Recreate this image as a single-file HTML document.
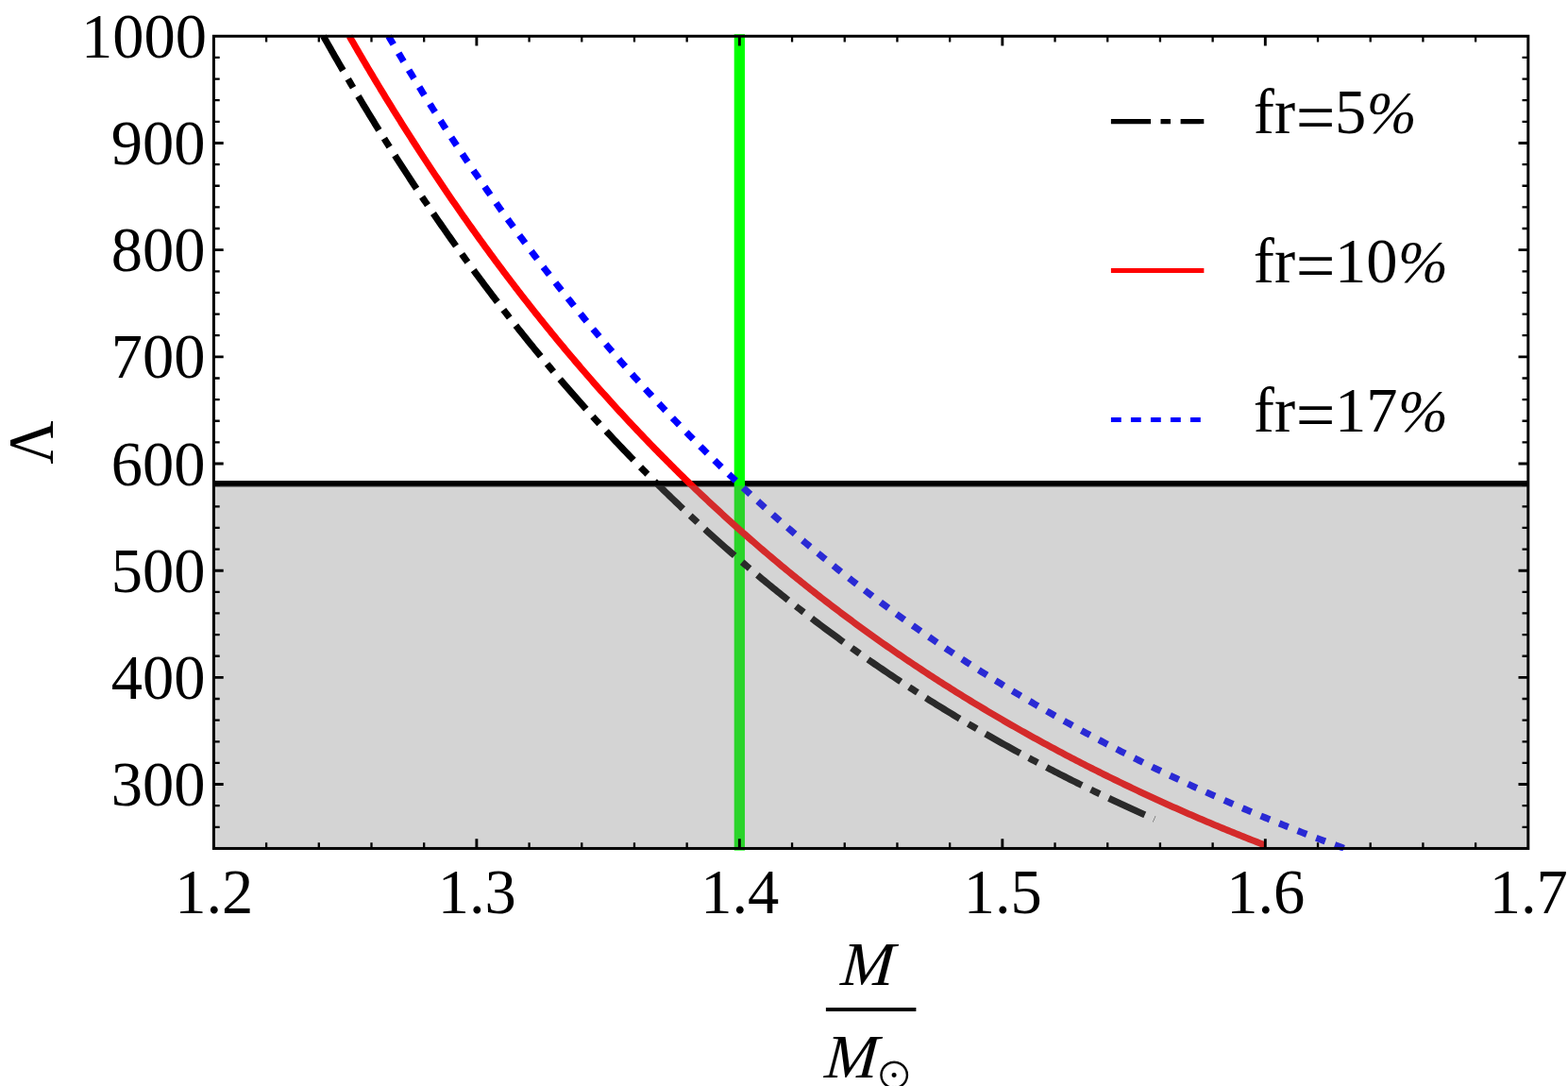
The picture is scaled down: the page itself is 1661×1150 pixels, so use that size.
<!DOCTYPE html>
<html lang="en"><head><meta charset="utf-8"><title>Tidal deformability vs mass</title>
<style>html,body{margin:0;padding:0;background:#fff;}body{width:1661px;height:1150px;overflow:hidden;}svg{display:block;}
text{font-family:"Liberation Serif","DejaVu Serif",serif;fill:#000;}.t{font-size:66.50px;}.i{font-style:italic;}
.sun{font-family:"DejaVu Serif","DejaVu Sans",serif;}
</style></head><body>
<svg width="1661" height="1150" viewBox="0 0 1661 1150">
<rect x="0" y="0" width="1661" height="1150" fill="#fff"/>
<defs><clipPath id="pc"><rect x="224.90" y="36.10" width="1395.40" height="864.65"/></clipPath></defs>
<g id="data" clip-path="url(#pc)">
<line x1="226.40" y1="512.25" x2="1618.80" y2="512.25" stroke="#000" stroke-width="6.50"/>
<line x1="783.36" y1="36.20" x2="783.36" y2="900.65" stroke="#00ff00" stroke-width="11.30"/>
<path d="M342.59,38.30 L344.06,40.91 L345.54,43.52 L347.01,46.13 L348.49,48.74 L349.98,51.35 L351.46,53.95 L352.95,56.55 L354.44,59.15 L355.93,61.75 L357.43,64.35 L358.93,66.95 L360.43,69.54 L361.94,72.13 L363.45,74.72 L364.96,77.31 L366.47,79.90 L367.99,82.49 L369.51,85.07 L371.03,87.65 L372.55,90.23 L374.08,92.81 L375.61,95.39 L377.15,97.97 L378.69,100.54 L380.23,103.11 L381.77,105.68 L383.32,108.25 L384.87,110.82 L386.42,113.38 L387.97,115.95 L389.53,118.51 L391.09,121.07 L392.66,123.62 L394.22,126.18 L395.80,128.73 L397.37,131.28 L398.95,133.83 L400.52,136.38 L402.11,138.93 L403.69,141.47 L405.28,144.01 L406.87,146.55 L408.47,149.09 L410.07,151.63 L411.67,154.16 L413.27,156.70 L414.88,159.23 L416.49,161.76 L418.10,164.28 L419.72,166.81 L421.34,169.33 L422.96,171.85 L424.59,174.37 L426.22,176.89 L427.85,179.40 L429.49,181.91 L431.13,184.42 L432.77,186.93 L434.41,189.44 L436.06,191.94 L437.71,194.44 L439.37,196.94 L441.03,199.44 L442.69,201.94 L444.35,204.43 L446.02,206.92 L447.69,209.41 L449.36,211.90 L451.04,214.38 L452.72,216.86 L454.41,219.35 L456.09,221.82 L457.78,224.30 L459.48,226.77 L461.17,229.24 L462.87,231.71 L464.58,234.18 L466.28,236.64 L468.00,239.11 L469.71,241.57 L471.43,244.02 L473.15,246.48 L474.87,248.93 L476.60,251.38 L478.33,253.83 L480.06,256.28 L481.80,258.72 L483.54,261.16 L485.28,263.60 L487.03,266.04 L488.78,268.47 L490.53,270.90 L492.29,273.33 L494.05,275.76 L495.81,278.18 L497.58,280.61 L499.35,283.02 L501.12,285.44 L502.90,287.86 L504.68,290.27 L506.47,292.68 L508.25,295.08 L510.04,297.49 L511.84,299.89 L513.64,302.29 L515.44,304.68 L517.24,307.08 L519.05,309.47 L520.86,311.86 L522.68,314.24 L524.50,316.63 L526.32,319.01 L528.14,321.39 L529.97,323.76 L531.81,326.13 L533.64,328.50 L535.48,330.87 L537.33,333.23 L539.17,335.60 L541.02,337.96 L542.88,340.31 L544.73,342.67 L546.59,345.02 L548.46,347.36 L550.32,349.71 L552.20,352.05 L554.07,354.39 L555.95,356.73 L557.83,359.06 L559.72,361.39 L561.60,363.72 L563.50,366.05 L565.39,368.37 L567.29,370.69 L569.20,373.00 L571.10,375.32 L573.01,377.63 L574.93,379.94 L576.84,382.24 L578.76,384.54 L580.69,386.84 L582.62,389.14 L584.55,391.43 L586.48,393.72 L588.42,396.01 L590.36,398.29 L592.31,400.57 L594.26,402.85 L596.21,405.12 L598.17,407.39 L600.13,409.66 L602.09,411.93 L604.06,414.19 L606.03,416.45 L608.01,418.70 L609.99,420.95 L611.97,423.20 L613.95,425.45 L615.94,427.69 L617.93,429.93 L619.93,432.17 L621.93,434.40 L623.93,436.63 L625.94,438.86 L627.95,441.08 L629.97,443.30 L631.99,445.52 L634.01,447.73 L636.03,449.94 L638.06,452.15 L640.09,454.36 L642.13,456.56 L644.17,458.75 L646.21,460.95 L648.26,463.14 L650.31,465.32 L652.37,467.51 L654.42,469.69 L656.49,471.86 L658.55,474.04 L660.62,476.21 L662.69,478.37 L664.77,480.54 L666.85,482.69 L668.93,484.85 L671.02,487.00 L673.11,489.15 L675.20,491.30 L677.30,493.44 L679.40,495.58 L681.51,497.71 L683.62,499.84 L685.73,501.97 L687.84,504.09 L689.96,506.21 L692.09,508.33 L694.21,510.44 L696.34,512.55 L698.48,514.66 L700.62,516.76 L702.76,518.86 L704.90,520.95 L707.05,523.04 L709.20,525.13 L711.36,527.21 L713.52,529.29 L715.68,531.37 L717.85,533.44 L720.02,535.51 L722.19,537.58 L724.37,539.64 L726.55,541.69 L728.73,543.75 L730.92,545.80 L733.11,547.84 L735.31,549.88 L737.50,551.92 L739.71,553.96 L741.91,555.99 L744.12,558.01 L746.33,560.04 L748.55,562.05 L750.77,564.07 L752.99,566.08 L755.22,568.09 L757.45,570.09 L759.69,572.09 L761.92,574.09 L764.16,576.08 L766.41,578.06 L768.66,580.05 L770.91,582.03 L773.16,584.00 L775.42,585.97 L777.68,587.94 L779.95,589.90 L782.22,591.86 L784.49,593.82 L786.77,595.77 L789.05,597.72 L791.33,599.66 L793.62,601.60 L795.91,603.53 L798.20,605.47 L800.50,607.39 L802.80,609.31 L805.10,611.23 L807.41,613.15 L809.72,615.06 L812.03,616.96 L814.35,618.87 L816.67,620.76 L818.99,622.66 L821.32,624.55 L823.65,626.43 L825.98,628.32 L828.32,630.19 L830.66,632.07 L833.01,633.93 L835.35,635.80 L837.71,637.66 L840.06,639.51 L842.42,641.37 L844.78,643.21 L847.14,645.06 L849.51,646.90 L851.88,648.73 L854.26,650.56 L856.63,652.39 L859.01,654.21 L861.40,656.03 L863.78,657.84 L866.17,659.65 L868.57,661.46 L870.96,663.26 L873.37,665.05 L875.77,666.85 L878.17,668.63 L880.58,670.42 L883.00,672.20 L885.41,673.97 L887.83,675.74 L890.26,677.51 L892.68,679.27 L895.11,681.03 L897.54,682.78 L899.98,684.53 L902.41,686.27 L904.86,688.01 L907.30,689.75 L909.75,691.48 L912.20,693.21 L914.65,694.93 L917.11,696.65 L919.57,698.36 L922.03,700.07 L924.50,701.78 L926.97,703.48 L929.44,705.17 L931.91,706.87 L934.39,708.55 L936.87,710.24 L939.36,711.92 L941.84,713.59 L944.33,715.26 L946.82,716.92 L949.32,718.59 L951.82,720.24 L954.32,721.89 L956.83,723.54 L959.33,725.19 L961.84,726.82 L964.36,728.46 L966.87,730.09 L969.39,731.71 L971.91,733.34 L974.44,734.95 L976.96,736.57 L979.50,738.17 L982.03,739.78 L984.56,741.38 L987.10,742.97 L989.64,744.56 L992.19,746.15 L994.74,747.73 L997.29,749.30 L999.84,750.88 L1002.39,752.44 L1004.95,754.01 L1007.51,755.57 L1010.07,757.12 L1012.64,758.67 L1015.21,760.22 L1017.78,761.76 L1020.35,763.30 L1022.93,764.83 L1025.51,766.36 L1028.09,767.88 L1030.68,769.40 L1033.26,770.91 L1035.85,772.42 L1038.45,773.93 L1041.04,775.43 L1043.64,776.93 L1046.24,778.42 L1048.84,779.91 L1051.45,781.39 L1054.05,782.87 L1056.66,784.35 L1059.28,785.82 L1061.89,787.28 L1064.51,788.75 L1067.13,790.20 L1069.75,791.66 L1072.37,793.11 L1075.00,794.55 L1077.63,795.99 L1080.26,797.42 L1082.90,798.86 L1085.53,800.28 L1088.17,801.70 L1090.82,803.12 L1093.46,804.54 L1096.10,805.95 L1098.75,807.35 L1101.40,808.75 L1104.06,810.15 L1106.71,811.54 L1109.37,812.93 L1112.03,814.31 L1114.69,815.69 L1117.36,817.06 L1120.02,818.43 L1122.69,819.80 L1125.36,821.16 L1128.04,822.52 L1130.71,823.87 L1133.39,825.22 L1136.07,826.56 L1138.75,827.90 L1141.43,829.24 L1144.12,830.57 L1146.81,831.89 L1149.50,833.22 L1152.19,834.54 L1154.89,835.85 L1157.58,837.16 L1160.28,838.47 L1162.98,839.77 L1165.69,841.06 L1168.39,842.36 L1171.10,843.65 L1173.81,844.93 L1176.52,846.21 L1179.23,847.49 L1181.94,848.76 L1184.66,850.03 L1187.38,851.29 L1190.10,852.55 L1192.82,853.80 L1195.55,855.05 L1198.27,856.30 L1201.00,857.54 L1203.73,858.78 L1206.46,860.02 L1209.20,861.25 L1211.93,862.47 L1214.67,863.69 L1217.41,864.91 L1220.15,866.12 L1222.90,867.33" fill="none" stroke="#000" stroke-width="7.10" stroke-dasharray="42 10.55 10.5 10.654" stroke-dashoffset="0.15"/>
<path d="M370.09,38.30 L371.59,40.90 L373.08,43.50 L374.58,46.09 L376.08,48.69 L377.59,51.28 L379.09,53.87 L380.60,56.46 L382.12,59.04 L383.63,61.63 L385.15,64.21 L386.67,66.80 L388.20,69.38 L389.72,71.96 L391.25,74.53 L392.79,77.11 L394.32,79.68 L395.86,82.25 L397.40,84.82 L398.95,87.39 L400.50,89.96 L402.05,92.52 L403.60,95.09 L405.16,97.65 L406.71,100.21 L408.28,102.77 L409.84,105.32 L411.41,107.88 L412.98,110.43 L414.56,112.98 L416.13,115.53 L417.71,118.08 L419.30,120.62 L420.88,123.16 L422.47,125.70 L424.06,128.24 L425.66,130.78 L427.26,133.32 L428.86,135.85 L430.46,138.38 L432.07,140.91 L433.68,143.44 L435.29,145.96 L436.91,148.49 L438.53,151.01 L440.15,153.53 L441.78,156.05 L443.41,158.56 L445.04,161.08 L446.67,163.59 L448.31,166.10 L449.95,168.61 L451.60,171.11 L453.25,173.62 L454.90,176.12 L456.55,178.62 L458.21,181.12 L459.87,183.61 L461.53,186.10 L463.20,188.59 L464.87,191.08 L466.54,193.57 L468.22,196.06 L469.90,198.54 L471.58,201.02 L473.26,203.50 L474.95,205.97 L476.64,208.45 L478.34,210.92 L480.04,213.39 L481.74,215.85 L483.45,218.32 L485.15,220.78 L486.87,223.24 L488.58,225.70 L490.30,228.16 L492.02,230.61 L493.74,233.06 L495.47,235.51 L497.20,237.96 L498.94,240.40 L500.68,242.84 L502.42,245.28 L504.16,247.72 L505.91,250.15 L507.66,252.59 L509.41,255.02 L511.17,257.44 L512.93,259.87 L514.70,262.29 L516.47,264.71 L518.24,267.13 L520.01,269.54 L521.79,271.96 L523.57,274.37 L525.36,276.78 L527.14,279.18 L528.93,281.58 L530.73,283.98 L532.53,286.38 L534.33,288.78 L536.13,291.17 L537.94,293.56 L539.75,295.95 L541.57,298.33 L543.39,300.72 L545.21,303.10 L547.03,305.47 L548.86,307.85 L550.70,310.22 L552.53,312.59 L554.37,314.95 L556.21,317.32 L558.06,319.68 L559.91,322.04 L561.76,324.39 L563.62,326.75 L565.48,329.10 L567.34,331.44 L569.21,333.79 L571.08,336.13 L572.95,338.47 L574.83,340.81 L576.71,343.14 L578.60,345.47 L580.48,347.80 L582.38,350.12 L584.27,352.44 L586.17,354.76 L588.07,357.08 L589.98,359.39 L591.88,361.70 L593.80,364.01 L595.71,366.32 L597.63,368.62 L599.56,370.92 L601.48,373.21 L603.41,375.51 L605.35,377.80 L607.28,380.08 L609.22,382.37 L611.17,384.65 L613.12,386.93 L615.07,389.20 L617.02,391.47 L618.98,393.74 L620.94,396.01 L622.91,398.27 L624.88,400.53 L626.85,402.79 L628.83,405.04 L630.81,407.29 L632.79,409.54 L634.78,411.78 L636.77,414.02 L638.76,416.26 L640.76,418.49 L642.76,420.72 L644.77,422.95 L646.77,425.18 L648.79,427.40 L650.80,429.62 L652.82,431.83 L654.84,434.04 L656.87,436.25 L658.90,438.46 L660.93,440.66 L662.97,442.86 L665.01,445.05 L667.06,447.24 L669.10,449.43 L671.15,451.62 L673.21,453.80 L675.27,455.98 L677.33,458.15 L679.40,460.32 L681.47,462.49 L683.54,464.65 L685.62,466.82 L687.70,468.97 L689.78,471.13 L691.87,473.28 L693.96,475.43 L696.05,477.57 L698.15,479.71 L700.25,481.85 L702.36,483.98 L704.47,486.11 L706.58,488.24 L708.70,490.36 L710.81,492.48 L712.94,494.59 L715.06,496.70 L717.19,498.81 L719.33,500.92 L721.47,503.02 L723.61,505.12 L725.75,507.21 L727.90,509.30 L730.05,511.39 L732.21,513.47 L734.37,515.55 L736.53,517.62 L738.69,519.69 L740.86,521.76 L743.04,523.83 L745.21,525.89 L747.39,527.94 L749.58,530.00 L751.76,532.05 L753.96,534.09 L756.15,536.13 L758.35,538.17 L760.55,540.20 L762.75,542.23 L764.96,544.26 L767.17,546.28 L769.39,548.30 L771.61,550.32 L773.83,552.33 L776.06,554.33 L778.29,556.34 L780.52,558.34 L782.76,560.33 L785.00,562.32 L787.24,564.31 L789.49,566.29 L791.74,568.27 L793.99,570.25 L796.25,572.22 L798.51,574.19 L800.77,576.15 L803.04,578.11 L805.31,580.07 L807.58,582.02 L809.86,583.97 L812.14,585.91 L814.43,587.85 L816.72,589.79 L819.01,591.72 L821.30,593.65 L823.60,595.57 L825.90,597.49 L828.21,599.41 L830.52,601.32 L832.83,603.23 L835.14,605.13 L837.46,607.03 L839.78,608.92 L842.11,610.81 L844.44,612.70 L846.77,614.58 L849.11,616.46 L851.44,618.34 L853.79,620.21 L856.13,622.07 L858.48,623.94 L860.83,625.79 L863.19,627.65 L865.55,629.50 L867.91,631.34 L870.27,633.18 L872.64,635.02 L875.01,636.85 L877.39,638.68 L879.76,640.51 L882.15,642.33 L884.53,644.14 L886.92,645.95 L889.31,647.76 L891.70,649.56 L894.10,651.36 L896.50,653.16 L898.90,654.95 L901.31,656.73 L903.72,658.52 L906.13,660.29 L908.55,662.07 L910.97,663.84 L913.39,665.60 L915.82,667.36 L918.24,669.12 L920.68,670.87 L923.11,672.62 L925.55,674.36 L927.99,676.10 L930.43,677.84 L932.88,679.57 L935.33,681.29 L937.78,683.01 L940.24,684.73 L942.70,686.44 L945.16,688.15 L947.63,689.86 L950.10,691.56 L952.57,693.25 L955.04,694.95 L957.52,696.63 L960.00,698.32 L962.48,699.99 L964.97,701.67 L967.46,703.34 L969.95,705.00 L972.44,706.67 L974.94,708.32 L977.44,709.97 L979.94,711.62 L982.45,713.27 L984.96,714.91 L987.47,716.54 L989.99,718.17 L992.50,719.80 L995.02,721.42 L997.55,723.04 L1000.07,724.65 L1002.60,726.26 L1005.13,727.86 L1007.67,729.46 L1010.20,731.06 L1012.74,732.65 L1015.29,734.24 L1017.83,735.82 L1020.38,737.40 L1022.93,738.97 L1025.48,740.54 L1028.04,742.11 L1030.60,743.67 L1033.16,745.23 L1035.72,746.78 L1038.29,748.33 L1040.86,749.87 L1043.43,751.41 L1046.00,752.94 L1048.58,754.47 L1051.16,756.00 L1053.74,757.52 L1056.33,759.04 L1058.92,760.55 L1061.50,762.06 L1064.10,763.56 L1066.69,765.06 L1069.29,766.56 L1071.89,768.05 L1074.49,769.54 L1077.10,771.02 L1079.70,772.50 L1082.31,773.97 L1084.93,775.44 L1087.54,776.91 L1090.16,778.37 L1092.78,779.82 L1095.40,781.28 L1098.02,782.73 L1100.65,784.17 L1103.28,785.61 L1105.91,787.04 L1108.54,788.47 L1111.18,789.90 L1113.82,791.32 L1116.46,792.74 L1119.10,794.15 L1121.74,795.56 L1124.39,796.97 L1127.04,798.37 L1129.69,799.77 L1132.35,801.16 L1135.00,802.55 L1137.66,803.93 L1140.32,805.31 L1142.99,806.69 L1145.65,808.06 L1148.32,809.42 L1150.99,810.79 L1153.66,812.14 L1156.33,813.50 L1159.01,814.85 L1161.69,816.19 L1164.37,817.54 L1167.05,818.87 L1169.73,820.21 L1172.42,821.53 L1175.11,822.86 L1177.80,824.18 L1180.49,825.50 L1183.19,826.81 L1185.88,828.12 L1188.58,829.42 L1191.28,830.72 L1193.99,832.02 L1196.69,833.31 L1199.40,834.60 L1202.11,835.88 L1204.82,837.16 L1207.53,838.43 L1210.24,839.70 L1212.96,840.97 L1215.68,842.23 L1218.40,843.49 L1221.12,844.75 L1223.84,846.00 L1226.57,847.24 L1229.30,848.49 L1232.03,849.72 L1234.76,850.96 L1237.49,852.19 L1240.22,853.41 L1242.96,854.64 L1245.70,855.85 L1248.44,857.07 L1251.18,858.28 L1253.93,859.48 L1256.67,860.69 L1259.42,861.89 L1262.17,863.08 L1264.92,864.27 L1267.67,865.46 L1270.42,866.64 L1273.18,867.82 L1275.94,868.99 L1278.70,870.16 L1281.46,871.33 L1284.22,872.49 L1286.98,873.65 L1289.75,874.80 L1292.52,875.96 L1295.29,877.10 L1298.06,878.25 L1300.83,879.39 L1303.60,880.52 L1306.38,881.65 L1309.15,882.78 L1311.93,883.90 L1314.71,885.02 L1317.49,886.14 L1320.28,887.25 L1323.06,888.36 L1325.85,889.47 L1328.64,890.57 L1331.42,891.67 L1334.21,892.76 L1337.01,893.85 L1339.80,894.94" fill="none" stroke="#ff0000" stroke-width="7.10"/>
<path d="M411.60,38.30 L413.12,40.88 L414.65,43.47 L416.17,46.05 L417.70,48.62 L419.23,51.20 L420.77,53.78 L422.30,56.35 L423.84,58.92 L425.39,61.49 L426.93,64.06 L428.48,66.63 L430.04,69.19 L431.59,71.75 L433.15,74.31 L434.71,76.87 L436.27,79.43 L437.84,81.99 L439.41,84.54 L440.98,87.09 L442.56,89.64 L444.14,92.19 L445.72,94.74 L447.30,97.28 L448.89,99.83 L450.48,102.37 L452.07,104.91 L453.67,107.44 L455.27,109.98 L456.87,112.51 L458.48,115.04 L460.09,117.57 L461.70,120.10 L463.31,122.63 L464.93,125.15 L466.55,127.67 L468.18,130.19 L469.80,132.71 L471.43,135.22 L473.07,137.74 L474.70,140.25 L476.34,142.76 L477.98,145.27 L479.63,147.77 L481.28,150.28 L482.93,152.78 L484.59,155.28 L486.24,157.77 L487.90,160.27 L489.57,162.76 L491.24,165.25 L492.91,167.74 L494.58,170.23 L496.26,172.72 L497.94,175.20 L499.62,177.68 L501.31,180.16 L503.00,182.63 L504.69,185.11 L506.39,187.58 L508.09,190.05 L509.79,192.52 L511.49,194.98 L513.20,197.44 L514.92,199.90 L516.63,202.36 L518.35,204.82 L520.07,207.27 L521.80,209.72 L523.52,212.17 L525.26,214.62 L526.99,217.06 L528.73,219.51 L530.47,221.95 L532.22,224.38 L533.96,226.82 L535.71,229.25 L537.47,231.68 L539.23,234.11 L540.99,236.54 L542.75,238.96 L544.52,241.38 L546.29,243.80 L548.07,246.22 L549.84,248.63 L551.62,251.04 L553.41,253.45 L555.20,255.86 L556.99,258.26 L558.78,260.66 L560.58,263.06 L562.38,265.46 L564.19,267.85 L565.99,270.24 L567.80,272.63 L569.62,275.02 L571.44,277.40 L573.26,279.78 L575.08,282.16 L576.91,284.54 L578.74,286.91 L580.58,289.28 L582.42,291.65 L584.26,294.01 L586.10,296.38 L587.95,298.73 L589.80,301.09 L591.66,303.45 L593.52,305.80 L595.38,308.15 L597.25,310.49 L599.11,312.84 L600.99,315.18 L602.86,317.52 L604.74,319.85 L606.63,322.18 L608.51,324.51 L610.40,326.84 L612.29,329.17 L614.19,331.49 L616.09,333.81 L618.00,336.12 L619.90,338.43 L621.81,340.74 L623.73,343.05 L625.64,345.36 L627.57,347.66 L629.49,349.96 L631.42,352.25 L633.35,354.54 L635.28,356.83 L637.22,359.12 L639.16,361.40 L641.11,363.68 L643.06,365.96 L645.01,368.24 L646.97,370.51 L648.93,372.78 L650.89,375.04 L652.86,377.31 L654.83,379.57 L656.80,381.82 L658.78,384.08 L660.76,386.33 L662.74,388.57 L664.73,390.82 L666.72,393.06 L668.71,395.30 L670.71,397.53 L672.71,399.76 L674.72,401.99 L676.73,404.22 L678.74,406.44 L680.75,408.66 L682.77,410.87 L684.80,413.09 L686.82,415.29 L688.85,417.50 L690.89,419.70 L692.92,421.90 L694.96,424.10 L697.01,426.29 L699.05,428.48 L701.10,430.67 L703.16,432.85 L705.22,435.03 L707.28,437.21 L709.34,439.38 L711.41,441.55 L713.48,443.72 L715.56,445.88 L717.64,448.04 L719.72,450.19 L721.81,452.35 L723.90,454.50 L725.99,456.64 L728.09,458.78 L730.19,460.92 L732.29,463.06 L734.40,465.19 L736.51,467.32 L738.63,469.44 L740.74,471.57 L742.86,473.68 L744.99,475.80 L747.12,477.91 L749.25,480.02 L751.39,482.12 L753.52,484.22 L755.67,486.32 L757.81,488.41 L759.96,490.50 L762.12,492.58 L764.27,494.67 L766.43,496.75 L768.60,498.82 L770.76,500.89 L772.93,502.96 L775.11,505.02 L777.28,507.08 L779.47,509.14 L781.65,511.19 L783.84,513.24 L786.03,515.29 L788.22,517.33 L790.42,519.37 L792.62,521.40 L794.83,523.43 L797.04,525.46 L799.25,527.48 L801.47,529.50 L803.68,531.52 L805.91,533.53 L808.13,535.54 L810.36,537.54 L812.59,539.54 L814.83,541.54 L817.07,543.53 L819.31,545.52 L821.56,547.50 L823.81,549.49 L826.06,551.46 L828.32,553.44 L830.58,555.41 L832.84,557.37 L835.11,559.33 L837.38,561.29 L839.65,563.24 L841.93,565.19 L844.21,567.14 L846.49,569.08 L848.78,571.02 L851.07,572.95 L853.37,574.88 L855.66,576.81 L857.96,578.73 L860.27,580.65 L862.57,582.56 L864.88,584.47 L867.20,586.38 L869.51,588.28 L871.83,590.18 L874.16,592.08 L876.48,593.97 L878.81,595.85 L881.15,597.73 L883.48,599.61 L885.82,601.48 L888.17,603.35 L890.51,605.22 L892.86,607.08 L895.22,608.94 L897.57,610.79 L899.93,612.64 L902.29,614.49 L904.66,616.33 L907.03,618.17 L909.40,620.00 L911.78,621.83 L914.16,623.65 L916.54,625.47 L918.92,627.29 L921.31,629.10 L923.70,630.91 L926.09,632.71 L928.49,634.51 L930.89,636.31 L933.30,638.10 L935.70,639.89 L938.11,641.67 L940.53,643.45 L942.94,645.22 L945.36,646.99 L947.78,648.76 L950.21,650.52 L952.64,652.28 L955.07,654.03 L957.50,655.78 L959.94,657.53 L962.38,659.27 L964.82,661.01 L967.27,662.74 L969.72,664.47 L972.17,666.19 L974.63,667.91 L977.08,669.63 L979.55,671.34 L982.01,673.04 L984.48,674.75 L986.95,676.45 L989.42,678.14 L991.90,679.83 L994.37,681.52 L996.86,683.20 L999.34,684.88 L1001.83,686.55 L1004.32,688.22 L1006.81,689.88 L1009.31,691.54 L1011.81,693.20 L1014.31,694.85 L1016.81,696.50 L1019.32,698.14 L1021.83,699.78 L1024.34,701.41 L1026.86,703.04 L1029.38,704.67 L1031.90,706.29 L1034.42,707.91 L1036.95,709.52 L1039.48,711.13 L1042.01,712.74 L1044.54,714.34 L1047.08,715.93 L1049.62,717.52 L1052.16,719.11 L1054.71,720.69 L1057.26,722.27 L1059.81,723.85 L1062.36,725.42 L1064.92,726.98 L1067.48,728.55 L1070.04,730.10 L1072.60,731.66 L1075.17,733.21 L1077.74,734.75 L1080.31,736.29 L1082.88,737.83 L1085.46,739.36 L1088.04,740.89 L1090.62,742.41 L1093.21,743.93 L1095.79,745.44 L1098.38,746.95 L1100.97,748.46 L1103.57,749.96 L1106.17,751.46 L1108.76,752.95 L1111.37,754.44 L1113.97,755.93 L1116.58,757.41 L1119.19,758.89 L1121.80,760.36 L1124.41,761.83 L1127.03,763.29 L1129.65,764.75 L1132.27,766.20 L1134.89,767.66 L1137.51,769.10 L1140.14,770.54 L1142.77,771.98 L1145.40,773.42 L1148.04,774.85 L1150.68,776.27 L1153.32,777.69 L1155.96,779.11 L1158.60,780.52 L1161.25,781.93 L1163.90,783.34 L1166.55,784.74 L1169.20,786.13 L1171.85,787.53 L1174.51,788.91 L1177.17,790.30 L1179.83,791.68 L1182.49,793.05 L1185.16,794.42 L1187.83,795.79 L1190.50,797.15 L1193.17,798.51 L1195.84,799.87 L1198.52,801.22 L1201.20,802.56 L1203.88,803.91 L1206.56,805.24 L1209.25,806.58 L1211.93,807.91 L1214.62,809.23 L1217.31,810.56 L1220.01,811.87 L1222.70,813.19 L1225.40,814.50 L1228.10,815.80 L1230.80,817.10 L1233.50,818.40 L1236.20,819.69 L1238.91,820.98 L1241.62,822.27 L1244.33,823.55 L1247.04,824.82 L1249.75,826.10 L1252.47,827.36 L1255.19,828.63 L1257.91,829.89 L1260.63,831.15 L1263.35,832.40 L1266.08,833.65 L1268.81,834.89 L1271.53,836.13 L1274.27,837.37 L1277.00,838.60 L1279.73,839.83 L1282.47,841.06 L1285.21,842.28 L1287.95,843.49 L1290.69,844.71 L1293.43,845.92 L1296.17,847.12 L1298.92,848.32 L1301.67,849.52 L1304.42,850.71 L1307.17,851.90 L1309.92,853.09 L1312.68,854.27 L1315.44,855.45 L1318.19,856.62 L1320.95,857.79 L1323.72,858.96 L1326.48,860.12 L1329.24,861.28 L1332.01,862.44 L1334.78,863.59 L1337.55,864.73 L1340.32,865.88 L1343.09,867.02 L1345.86,868.15 L1348.64,869.28 L1351.42,870.41 L1354.20,871.54 L1356.98,872.66 L1359.76,873.78 L1362.54,874.89 L1365.33,876.00 L1368.11,877.10 L1370.90,878.21 L1373.69,879.30 L1376.48,880.40 L1379.27,881.49 L1382.07,882.58 L1384.86,883.66 L1387.66,884.74 L1390.46,885.82 L1393.26,886.89 L1396.06,887.96 L1398.86,889.02 L1401.66,890.09 L1404.47,891.14 L1407.27,892.20 L1410.08,893.25 L1412.89,894.30 L1415.70,895.34 L1418.51,896.38 L1421.32,897.42 L1424.14,898.45" fill="none" stroke="#0000ff" stroke-width="7.10" stroke-dasharray="10.3 10.752" stroke-dashoffset="0.20"/>
<rect x="226.40" y="514.30" width="1392.40" height="384.15" fill="rgb(127,127,127)" fill-opacity="0.333"/>
</g>
<g id="frame"><rect x="226.40" y="38.30" width="1392.40" height="860.15" fill="none" stroke="#000" stroke-width="3.00"/>
<path d="M504.88,898.45v-10.30 M504.88,38.30v10.30 M783.36,898.45v-10.30 M783.36,38.30v10.30 M1061.84,898.45v-10.30 M1061.84,38.30v10.30 M1340.32,898.45v-10.30 M1340.32,38.30v10.30 M226.40,830.56h10.30 M1618.80,830.56h-10.30 M226.40,717.38h10.30 M1618.80,717.38h-10.30 M226.40,604.20h10.30 M1618.80,604.20h-10.30 M226.40,491.02h10.30 M1618.80,491.02h-10.30 M226.40,377.84h10.30 M1618.80,377.84h-10.30 M226.40,264.66h10.30 M1618.80,264.66h-10.30 M226.40,151.48h10.30 M1618.80,151.48h-10.30" stroke="#000" stroke-width="2.90" fill="none"/>
<path d="M282.10,898.45v-6.30 M282.10,38.30v6.30 M337.79,898.45v-6.30 M337.79,38.30v6.30 M393.49,898.45v-6.30 M393.49,38.30v6.30 M449.18,898.45v-6.30 M449.18,38.30v6.30 M560.58,898.45v-6.30 M560.58,38.30v6.30 M616.27,898.45v-6.30 M616.27,38.30v6.30 M671.97,898.45v-6.30 M671.97,38.30v6.30 M727.66,898.45v-6.30 M727.66,38.30v6.30 M839.06,898.45v-6.30 M839.06,38.30v6.30 M894.75,898.45v-6.30 M894.75,38.30v6.30 M950.45,898.45v-6.30 M950.45,38.30v6.30 M1006.14,898.45v-6.30 M1006.14,38.30v6.30 M1117.54,898.45v-6.30 M1117.54,38.30v6.30 M1173.23,898.45v-6.30 M1173.23,38.30v6.30 M1228.93,898.45v-6.30 M1228.93,38.30v6.30 M1284.62,898.45v-6.30 M1284.62,38.30v6.30 M1396.02,898.45v-6.30 M1396.02,38.30v6.30 M1451.71,898.45v-6.30 M1451.71,38.30v6.30 M1507.41,898.45v-6.30 M1507.41,38.30v6.30 M1563.10,898.45v-6.30 M1563.10,38.30v6.30 M226.40,875.83h6.30 M1618.80,875.83h-6.30 M226.40,853.20h6.30 M1618.80,853.20h-6.30 M226.40,807.92h6.30 M1618.80,807.92h-6.30 M226.40,785.29h6.30 M1618.80,785.29h-6.30 M226.40,762.65h6.30 M1618.80,762.65h-6.30 M226.40,740.02h6.30 M1618.80,740.02h-6.30 M226.40,694.74h6.30 M1618.80,694.74h-6.30 M226.40,672.11h6.30 M1618.80,672.11h-6.30 M226.40,649.47h6.30 M1618.80,649.47h-6.30 M226.40,626.84h6.30 M1618.80,626.84h-6.30 M226.40,581.56h6.30 M1618.80,581.56h-6.30 M226.40,558.93h6.30 M1618.80,558.93h-6.30 M226.40,536.29h6.30 M1618.80,536.29h-6.30 M226.40,513.66h6.30 M1618.80,513.66h-6.30 M226.40,468.38h6.30 M1618.80,468.38h-6.30 M226.40,445.75h6.30 M1618.80,445.75h-6.30 M226.40,423.11h6.30 M1618.80,423.11h-6.30 M226.40,400.48h6.30 M1618.80,400.48h-6.30 M226.40,355.20h6.30 M1618.80,355.20h-6.30 M226.40,332.57h6.30 M1618.80,332.57h-6.30 M226.40,309.93h6.30 M1618.80,309.93h-6.30 M226.40,287.30h6.30 M1618.80,287.30h-6.30 M226.40,242.02h6.30 M1618.80,242.02h-6.30 M226.40,219.39h6.30 M1618.80,219.39h-6.30 M226.40,196.75h6.30 M1618.80,196.75h-6.30 M226.40,174.12h6.30 M1618.80,174.12h-6.30 M226.40,128.84h6.30 M1618.80,128.84h-6.30 M226.40,106.21h6.30 M1618.80,106.21h-6.30 M226.40,83.57h6.30 M1618.80,83.57h-6.30 M226.40,60.94h6.30 M1618.80,60.94h-6.30" stroke="#000" stroke-width="2.30" fill="none"/></g>
<g id="ylabels">
<text class="t" text-anchor="end" transform="translate(217.40,853.06) scale(1,1.02)">300</text>
<text class="t" text-anchor="end" transform="translate(217.40,739.88) scale(1,1.02)">400</text>
<text class="t" text-anchor="end" transform="translate(217.40,626.70) scale(1,1.02)">500</text>
<text class="t" text-anchor="end" transform="translate(217.40,513.52) scale(1,1.02)">600</text>
<text class="t" text-anchor="end" transform="translate(217.40,400.34) scale(1,1.02)">700</text>
<text class="t" text-anchor="end" transform="translate(217.40,287.16) scale(1,1.02)">800</text>
<text class="t" text-anchor="end" transform="translate(217.40,173.98) scale(1,1.02)">900</text>
<text class="t" text-anchor="end" transform="translate(219.00,60.80) scale(1,1.02)">1000</text>
</g>
<g id="xlabels">
<text class="t" text-anchor="middle" transform="translate(226.80,967.10) scale(1,1.02)">1.2</text>
<text class="t" text-anchor="middle" transform="translate(505.28,967.10) scale(1,1.02)">1.3</text>
<text class="t" text-anchor="middle" transform="translate(783.76,967.10) scale(1,1.02)">1.4</text>
<text class="t" text-anchor="middle" transform="translate(1062.24,967.10) scale(1,1.02)">1.5</text>
<text class="t" text-anchor="middle" transform="translate(1340.72,967.10) scale(1,1.02)">1.6</text>
<text class="t" text-anchor="middle" transform="translate(1619.20,967.10) scale(1,1.02)">1.7</text>
</g>
<text class="t" text-anchor="middle" transform="translate(54.50,468.60) rotate(-90) scale(0.964,1.028)">Λ</text>
<g id="xlabel">
<text class="t i" transform="translate(889.80,1043.00) skewX(-4.3) scale(1.013,0.988)">M</text>
<rect x="874.9" y="1067.0" width="95.5" height="3.9" fill="#000"/>
<text class="t i" transform="translate(872.70,1140.80) skewX(-4.3) scale(1.013,0.988)">M</text>
<text class="sun" text-anchor="middle" font-size="49.80px" x="947.00" y="1154.10" stroke="#fff" stroke-width="1.40">⊙</text>
</g>
<g id="legend">
<line x1="1176.9" y1="128.6" x2="1275.3" y2="128.6" stroke="#000" stroke-width="5.10" stroke-dasharray="42.1 10.5 10.5 10.6"/>
<line x1="1176.9" y1="286.55" x2="1275.35" y2="286.55" stroke="#ff0000" stroke-width="5.10"/>
<line x1="1176.9" y1="444.55" x2="1271.8" y2="444.55" stroke="#0000ff" stroke-width="5.10" stroke-dasharray="10.8 10.22"/>
<text class="t" transform="translate(1327.75,140.80) scale(1,1.01)">fr<tspan x="44.95" y="7.70" font-size="74.0px">=</tspan><tspan x="86.30" y="0">5</tspan><tspan x="119.95" y="0" font-style="italic" font-size="63.5px">%</tspan></text>
<text class="t" transform="translate(1327.75,298.60) scale(1,1.01)">fr<tspan x="44.95" y="7.70" font-size="74.0px">=</tspan><tspan x="86.30" y="0">10</tspan><tspan x="153.20" y="0" font-style="italic" font-size="63.5px">%</tspan></text>
<text class="t" transform="translate(1327.75,456.60) scale(1,1.01)">fr<tspan x="44.95" y="7.70" font-size="74.0px">=</tspan><tspan x="86.30" y="0">17</tspan><tspan x="153.20" y="0" font-style="italic" font-size="63.5px">%</tspan></text>
</g>
</svg></body></html>
